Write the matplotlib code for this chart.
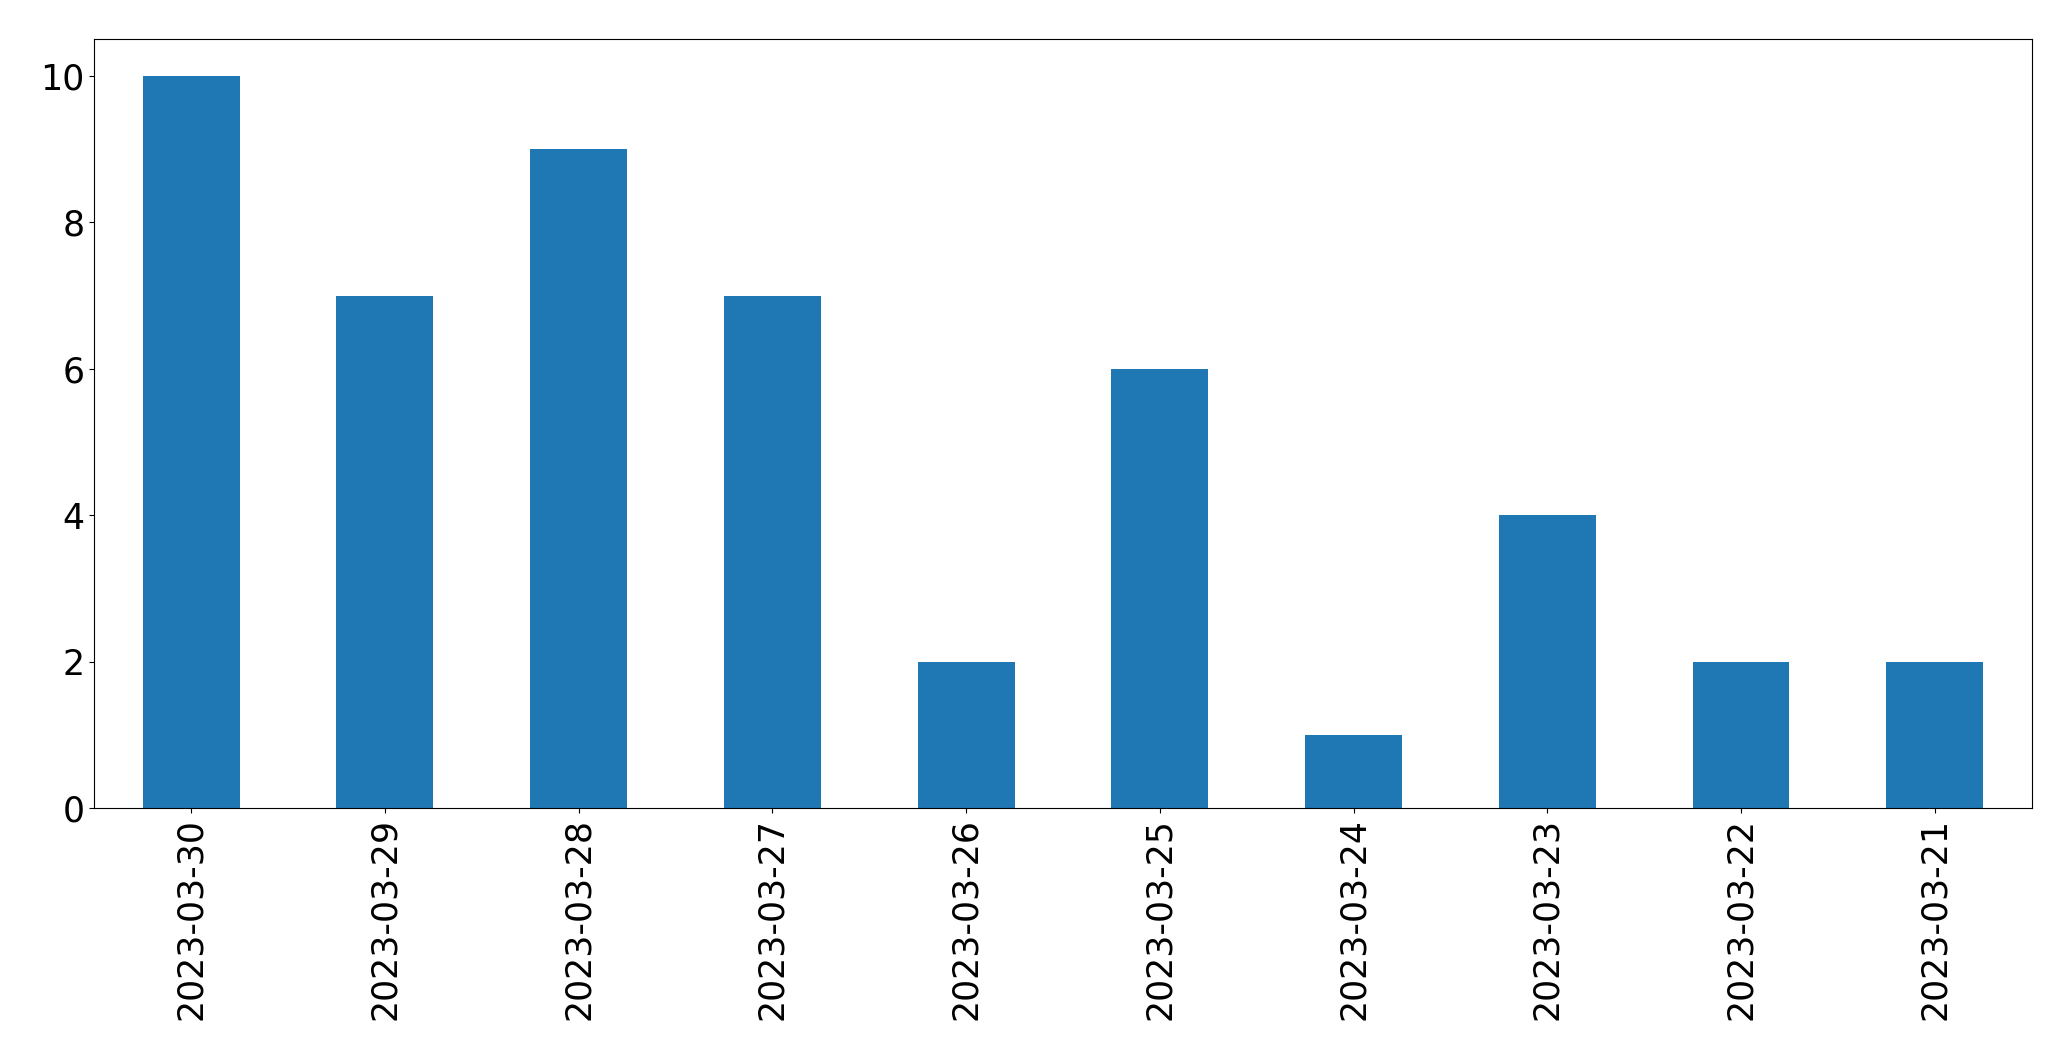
import pandas as pd
import matplotlib.pyplot as plt

dates = ['2023-03-30', '2023-03-29', '2023-03-28', '2023-03-27', '2023-03-26',
         '2023-03-25', '2023-03-24', '2023-03-23', '2023-03-22', '2023-03-21']
counts = [10, 7, 9, 7, 2, 6, 1, 4, 2, 2]

s = pd.Series(counts, index=dates)

fig, ax = plt.subplots(figsize=(20.71, 10.61), dpi=100)
s.plot(kind='bar', ax=ax, color='#1f77b4')

ax.tick_params(axis='both', labelsize=25)
plt.subplots_adjust(left=0.0455, right=0.981, top=0.963, bottom=0.238)

plt.savefig('out.png', dpi=100)
